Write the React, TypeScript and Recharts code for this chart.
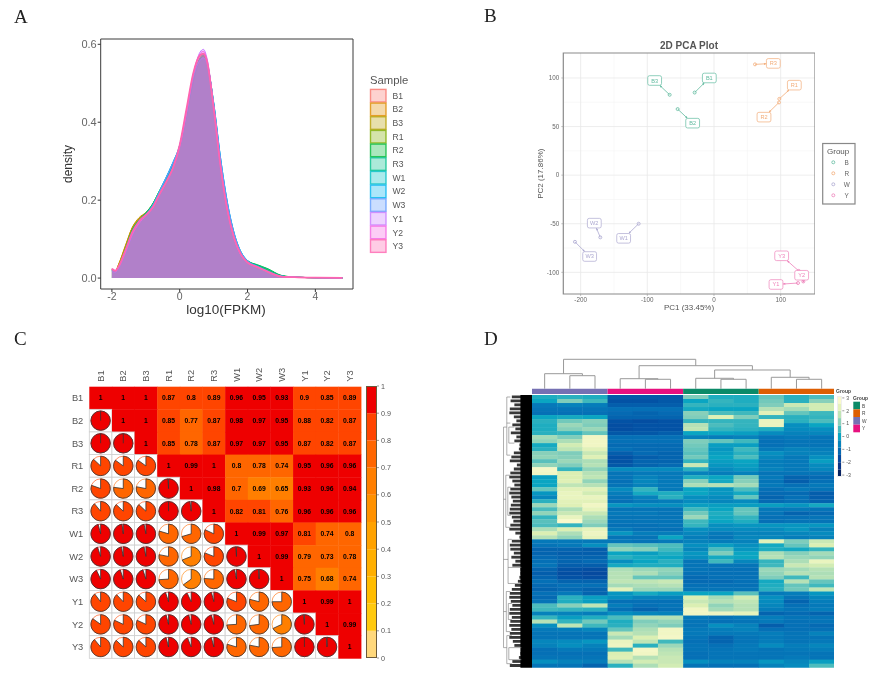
import {
  AreaChart, Area, BarChart, Bar, ScatterChart, Scatter, XAxis, YAxis,
  CartesianGrid, ReferenceArea, ReferenceLine,
} from 'recharts'

const SANS = '"Liberation Sans", Arial, sans-serif'

// ---- panel A: density ----
const samples = ['B1', 'B2', 'B3', 'R1', 'R2', 'R3', 'W1', 'W2', 'W3', 'Y1', 'Y2', 'Y3']
const sampleColors = [
  '#F8766D', '#DE8C00', '#B79F00', '#7CAE00', '#00BA38', '#00C08B',
  '#00BFC4', '#00B4F0', '#619CFF', '#C77CFF', '#F564E3', '#FF64B0',
]
const fpkm = [-2, -1.9, -1.8, -1.6, -1.4, -1.2, -1, -0.8, -0.6, -0.4, -0.2, 0, 0.2, 0.4, 0.6, 0.7, 0.8, 1, 1.2, 1.4, 1.6, 1.8, 2, 2.3, 2.6, 3, 3.5, 4, 4.8]
const densityB1 = [0.022, 0.018, 0.034, 0.08, 0.128, 0.152, 0.166, 0.184, 0.216, 0.25, 0.288, 0.336, 0.418, 0.505, 0.562, 0.572, 0.552, 0.44, 0.298, 0.186, 0.11, 0.064, 0.042, 0.03, 0.019, 0.005, 0.002, 0.001, 0.0005]
const densityB2 = [0.021, 0.017, 0.036, 0.084, 0.13, 0.155, 0.168, 0.186, 0.218, 0.251, 0.287, 0.335, 0.416, 0.503, 0.56, 0.57, 0.552, 0.442, 0.3, 0.188, 0.112, 0.065, 0.043, 0.03, 0.02, 0.005, 0.002, 0.001, 0.0005]
const densityB3 = [0.023, 0.018, 0.035, 0.082, 0.129, 0.153, 0.167, 0.185, 0.217, 0.25, 0.288, 0.336, 0.417, 0.504, 0.561, 0.571, 0.553, 0.441, 0.299, 0.187, 0.111, 0.064, 0.042, 0.03, 0.019, 0.005, 0.002, 0.001, 0.0005]
const densityR1 = [0.02, 0.016, 0.03, 0.076, 0.124, 0.15, 0.168, 0.19, 0.222, 0.254, 0.29, 0.338, 0.42, 0.51, 0.566, 0.574, 0.556, 0.445, 0.302, 0.19, 0.112, 0.066, 0.044, 0.032, 0.022, 0.006, 0.002, 0.001, 0.0005]
const densityR2 = [0.02, 0.016, 0.03, 0.074, 0.122, 0.148, 0.166, 0.19, 0.224, 0.256, 0.29, 0.336, 0.418, 0.508, 0.562, 0.57, 0.555, 0.448, 0.304, 0.192, 0.114, 0.066, 0.045, 0.034, 0.024, 0.007, 0.002, 0.001, 0.0005]
const densityR3 = [0.021, 0.016, 0.03, 0.075, 0.123, 0.149, 0.167, 0.189, 0.222, 0.254, 0.29, 0.337, 0.419, 0.508, 0.564, 0.572, 0.555, 0.446, 0.303, 0.19, 0.113, 0.066, 0.044, 0.033, 0.023, 0.006, 0.002, 0.001, 0.0005]
const densityW1 = [0.018, 0.014, 0.026, 0.066, 0.112, 0.144, 0.164, 0.186, 0.222, 0.258, 0.296, 0.34, 0.422, 0.516, 0.56, 0.566, 0.552, 0.45, 0.31, 0.196, 0.116, 0.068, 0.044, 0.03, 0.018, 0.005, 0.002, 0.001, 0.0005]
const densityW2 = [0.018, 0.014, 0.026, 0.064, 0.11, 0.142, 0.162, 0.186, 0.222, 0.259, 0.297, 0.342, 0.425, 0.518, 0.558, 0.564, 0.552, 0.452, 0.312, 0.198, 0.118, 0.069, 0.045, 0.03, 0.018, 0.005, 0.002, 0.001, 0.0005]
const densityW3 = [0.019, 0.014, 0.027, 0.065, 0.111, 0.143, 0.163, 0.186, 0.221, 0.258, 0.296, 0.341, 0.424, 0.517, 0.559, 0.565, 0.552, 0.451, 0.311, 0.197, 0.117, 0.068, 0.044, 0.03, 0.018, 0.005, 0.002, 0.001, 0.0005]
const densityY1 = [0.023, 0.018, 0.028, 0.068, 0.112, 0.14, 0.16, 0.18, 0.214, 0.246, 0.282, 0.336, 0.424, 0.522, 0.58, 0.587, 0.566, 0.442, 0.292, 0.178, 0.104, 0.06, 0.04, 0.028, 0.016, 0.004, 0.002, 0.001, 0.0005]
const densityY2 = [0.024, 0.019, 0.03, 0.07, 0.116, 0.144, 0.162, 0.18, 0.214, 0.246, 0.284, 0.34, 0.43, 0.524, 0.576, 0.582, 0.562, 0.44, 0.29, 0.178, 0.104, 0.06, 0.04, 0.028, 0.016, 0.004, 0.002, 0.001, 0.0005]
const densityY3 = [0.024, 0.019, 0.03, 0.072, 0.118, 0.146, 0.162, 0.181, 0.215, 0.247, 0.283, 0.342, 0.434, 0.526, 0.572, 0.576, 0.558, 0.438, 0.29, 0.178, 0.105, 0.062, 0.04, 0.028, 0.016, 0.004, 0.002, 0.001, 0.0005]
const densitySeries = [densityB1, densityB2, densityB3, densityR1, densityR2, densityR3, densityW1, densityW2, densityW3, densityY1, densityY2, densityY3]

const densityRows = fpkm.map((x, i) => {
  const row: Record<string, number> = { x }
  samples.forEach((s, k) => { row[s] = densitySeries[k][i] })
  return row
})

// ---- panel B: PCA ----
const pcaGroups = ['B', 'R', 'W', 'Y']
const pcaColors = ['#62BBA0', '#F2AC78', '#ACA8D0', '#EE82BA']
const pcaSamples = ['B1', 'B2', 'B3', 'R1', 'R2', 'R3', 'W1', 'W2', 'W3', 'Y1', 'Y2', 'Y3']
const pc1 = [-29, -54.5, -66.5, 98, 97.5, 61.5, -113, -170.5, -208.5, 126, 134, 127]
const pc2 = [85, 68, 82.7, 78.5, 74.8, 114, -50, -64, -68.6, -111, -109.4, -98.5]
const labelPc1 = [-7, -32, -89, 120.5, 75, 89, -135.5, -179.5, -186.5, 93, 131.5, 101.5]
const labelPc2 = [100, 53.5, 97.4, 92.6, 59.7, 115, -65, -49.4, -83.7, -112.5, -103, -83]

const pcaPoints = pcaSamples.map((name, i) => ({
  name, x: pc1[i], y: pc2[i], lx: labelPc1[i], ly: labelPc2[i], group: Math.floor(i / 3),
}))

// ---- panel C: correlation, upper triangle rows start at the diagonal ----
const corrUpper = [
  [1, 1, 1, 0.87, 0.804, 0.89, 0.96, 0.95, 0.93, 0.896, 0.85, 0.89],
  [1, 1, 0.85, 0.77, 0.87, 0.98, 0.97, 0.95, 0.88, 0.82, 0.87],
  [1, 0.85, 0.78, 0.87, 0.97, 0.97, 0.95, 0.87, 0.82, 0.87],
  [1, 0.99, 1, 0.796, 0.78, 0.74, 0.95, 0.96, 0.96],
  [1, 0.98, 0.704, 0.69, 0.65, 0.93, 0.96, 0.94],
  [1, 0.82, 0.81, 0.76, 0.96, 0.96, 0.96],
  [1, 0.99, 0.97, 0.81, 0.74, 0.796],
  [1, 0.99, 0.79, 0.73, 0.78],
  [1, 0.75, 0.68, 0.74],
  [1, 0.99, 1],
  [1, 0.99],
  [1],
]
const corrBins = ['#FFD87C', '#FFC90E', '#FFBC00', '#FFAF00', '#FFA200', '#FF9100', '#FF7F00', '#FF6600', '#FF4500', '#EE0000']
const corrTicks = [0, 0.1, 0.2, 0.3, 0.4, 0.5, 0.6, 0.7, 0.8, 0.9, 1]
const corrColor = (v: number) => corrBins[Math.max(0, Math.ceil(v * 10) - 1)]

const corrCells = samples.flatMap((_, r) => samples.map((__, c) => ({
  x: c + 0.5,
  y: r + 0.5,
  v: r <= c ? corrUpper[r][c - r] : corrUpper[c][r - c],
  upper: r <= c,
})))
const corrPos = samples.map((_, i) => i + 0.5)
const CORR_CELL = 22.64

// ---- panel D: heatmap, one row per band, columns W W W Y Y Y B B B R R R ----
const heatGroups = ['W', 'Y', 'B', 'R']
const heatGroupColors = ['#7570B3', '#E7107F', '#0B8A68', '#DD5E02']
const heatRows = [
  [0.2, 0.3, 0.2, -1.4, -1.4, -1.4, 1.0, 0.2, 0.2, 0.8, 0.3, 0.6],
  [0.0, 1.0, 0.5, -1.5, -1.5, -1.4, 0.0, 0.4, 0.2, 0.9, 0.3, 1.1],
  [-0.8, -0.6, -0.7, -1.3, -1.3, -1.3, 0.4, 0.3, 0.3, 1.0, 1.8, 1.9],
  [-0.9, -0.9, -0.9, -1.0, -1.0, -1.0, 0.1, 0.0, 0.0, 1.6, 1.4, 1.9],
  [-1.0, -1.0, -1.0, -1.1, -1.2, -1.1, 1.1, 0.6, 0.5, 2.2, 0.8, 0.5],
  [0.0, 0.1, 0.0, -1.2, -1.2, -1.2, 1.0, 2.1, 1.0, 0.4, 0.3, 0.4],
  [0.3, 0.9, 1.1, -1.5, -1.6, -1.5, 0.4, 0.4, 0.4, 2.4, 0.3, 0.6],
  [0.2, 1.3, 1.0, -1.6, -1.5, -1.5, 1.6, 0.6, 0.4, 2.4, -0.3, 0.0],
  [0.2, 1.1, 1.3, -1.6, -1.5, -1.5, 1.7, 0.4, 0.3, 0.2, -0.4, -0.3],
  [0.3, 0.4, 0.8, -1.4, -1.4, -1.3, 0.0, 0.0, -0.1, -0.4, -0.6, -0.5],
  [1.4, 1.0, 2.6, -1.0, -1.0, -1.0, -0.6, -0.7, -0.6, -0.9, -0.8, -0.9],
  [1.2, 1.5, 2.6, -1.0, -1.0, -1.0, 1.0, 0.8, 0.5, -1.0, -0.9, -0.9],
  [0.1, 1.9, 2.6, -1.1, -1.1, -1.1, 0.9, -0.1, -0.1, -1.0, -0.9, -0.9],
  [0.3, 1.7, 2.2, -1.0, -1.1, -1.1, 0.8, -0.2, 0.5, -0.8, -0.6, -0.7],
  [1.1, 1.0, 1.8, -1.3, -1.1, -1.2, 0.7, -0.1, 0.3, -0.3, -0.6, -0.6],
  [1.2, 1.1, 2.1, -1.5, -1.3, -1.2, 0.9, 0.0, 0.6, -0.5, -0.8, -0.3],
  [0.7, 1.3, 1.5, -1.5, -1.2, -1.2, 0.4, -0.1, 0.0, -0.7, -0.8, -0.1],
  [1.2, 1.0, 1.6, -1.4, -1.2, -1.1, 1.8, -0.2, -0.1, -0.7, -0.8, -0.4],
  [2.7, 0.4, 1.2, -0.4, -0.4, -0.4, 0.3, -0.4, -0.2, -0.6, -0.8, -0.5],
  [2.6, 2.0, 1.6, -0.9, -0.8, -0.8, -0.6, -0.7, -0.6, -0.9, -0.9, -0.9],
  [-0.1, 2.0, 1.7, -0.9, -0.6, -0.8, 0.2, 0.0, 0.9, -0.8, -1.2, -1.1],
  [0.0, 2.1, 1.2, -1.0, -0.5, -0.8, 1.1, 0.1, 1.1, -0.9, -1.3, -1.0],
  [0.0, 1.7, 1.6, -0.9, -0.6, -0.8, 1.5, 1.6, 1.4, -0.8, -1.0, -0.8],
  [0.8, 2.2, 2.2, -0.4, 0.4, -0.8, 0.0, -0.2, 0.6, -1.0, -0.8, -0.9],
  [-0.2, 2.4, 1.9, -0.7, 0.1, 0.2, 0.0, -0.2, 0.1, -1.1, -1.1, -1.3],
  [-0.5, 2.4, 2.4, -0.9, -0.6, 0.3, -0.3, -0.4, 0.8, -1.2, -1.0, -1.3],
  [0.3, 2.2, 2.2, -1.0, -0.8, -0.7, -0.4, -0.5, -0.4, -1.1, -1.0, -1.2],
  [1.3, 2.1, 2.6, -0.2, -0.3, -0.3, -0.1, -0.1, -0.1, -0.1, -0.2, 0.1],
  [0.6, 1.5, 2.3, -0.9, -0.9, -0.9, 0.5, 0.0, 0.8, -0.8, -0.8, -0.9],
  [1.2, 1.8, 1.8, -0.8, -0.8, -0.9, 0.9, 0.2, 0.8, -0.9, -1.2, -1.1],
  [0.4, 2.4, 1.5, -0.9, -0.9, -0.9, 1.3, 0.1, 0.4, -1.0, -1.0, -0.9],
  [0.7, 2.8, 1.3, -0.9, -0.9, -0.9, 0.5, 0.0, 0.2, -1.0, -0.9, -0.9],
  [0.6, 0.4, 1.0, -1.0, -1.0, -0.9, 0.4, -0.3, -0.2, -0.2, -0.2, -0.2],
  [1.5, 2.0, 2.3, -0.8, -1.0, -1.0, -0.3, -0.4, -0.4, -0.4, -0.2, -0.6],
  [2.0, 1.5, 2.5, -0.2, -0.7, -0.7, -0.5, -0.8, -0.6, -0.6, -0.5, -0.4],
  [1.6, 1.2, 2.3, -0.9, -0.9, 0.0, -0.7, -0.9, -0.5, -0.5, -0.7, -0.6],
  [-0.8, -0.8, -0.8, -0.8, -0.9, -0.8, -0.6, -0.7, -0.6, 2.2, 1.0, 1.8],
  [-0.9, -0.8, -0.3, 0.8, 0.7, 0.6, -0.3, -0.1, -0.3, 0.1, 0.8, 2.0],
  [-1.2, -1.2, -1.3, 1.2, 1.1, 0.5, -0.5, 0.6, -0.2, 0.2, 0.1, 0.4],
  [-1.2, -1.3, -1.3, 0.0, -0.1, 0.2, -0.2, 1.0, 0.0, 1.5, 1.1, 1.4],
  [-1.1, -1.2, -1.2, 0.3, 0.1, 0.0, -0.3, 0.1, 0.0, 1.6, 1.3, 1.2],
  [-1.0, -1.2, -1.1, -0.3, 0.0, 0.3, -0.9, 0.5, -0.5, 0.4, 1.5, 2.4],
  [-0.9, -1.3, -1.3, 0.1, 0.2, 0.2, -0.9, -0.9, -0.9, 0.5, 1.8, 1.9],
  [-1.2, -1.5, -1.6, 1.5, 1.3, 1.2, -0.9, -1.0, -1.0, 1.3, 1.4, 1.6],
  [-1.3, -1.6, -1.7, 1.6, 1.5, 1.1, -1.0, -1.0, -1.0, 1.2, 1.6, 1.5],
  [-1.2, -1.5, -1.6, 1.6, 0.8, 0.8, -1.1, -1.0, -1.0, 1.0, 0.5, 1.6],
  [-1.0, -1.2, -1.2, 1.7, 1.7, 1.8, -1.1, -1.1, -1.0, 0.1, 1.6, 0.8],
  [-1.1, -1.0, -1.0, 1.4, 1.5, 1.6, -1.0, -1.0, -1.0, 0.2, 0.8, 0.5],
  [-1.2, -1.1, -1.2, 2.2, 1.3, 1.3, -0.9, -0.9, -0.9, 0.3, 0.9, 1.7],
  [-1.0, -0.8, -1.2, -0.2, 0.1, -0.1, 0.0, 0.0, 0.7, -0.8, -0.7, -0.2],
  [-1.1, 0.3, -0.1, -0.3, -0.6, -0.6, 2.0, 1.4, 1.9, -0.3, -0.9, -0.5],
  [-0.9, 0.2, -0.1, -1.0, -1.0, -1.0, 1.8, 1.6, 1.7, -0.4, -1.2, -0.7],
  [0.6, 1.1, 1.7, -0.7, -1.0, -0.9, 2.0, 1.2, 1.6, -0.5, -1.0, -0.8],
  [0.5, 0.4, 0.3, -1.0, -1.2, -1.0, 2.6, 1.4, 1.6, -0.7, -0.9, -0.7],
  [-0.6, -0.6, -0.7, -0.3, -0.5, -0.6, 2.6, 2.5, 2.3, -1.2, -1.1, -1.2],
  [0.4, -0.1, 0.2, 0.6, 1.6, 1.6, -0.8, -0.9, -0.8, -0.7, -0.9, -0.9],
  [1.6, 0.4, 0.9, 0.2, 1.0, 1.2, -0.9, -1.0, -0.9, -0.8, -1.0, -0.9],
  [-0.3, 1.7, 0.5, 0.3, 1.2, 1.0, -0.9, -0.3, -0.6, -1.3, -1.0, -1.1],
  [-0.8, -0.7, -0.5, 0.8, 1.5, 2.6, -0.8, -0.7, -0.6, -1.0, -1.0, -1.0],
  [-0.9, -0.9, -0.9, 1.8, 1.6, 2.6, -0.8, -0.8, -0.8, -0.7, -0.9, -0.6],
  [-0.9, -0.9, -0.9, 1.4, 2.0, 2.7, -0.9, -1.2, -0.9, -0.8, -0.9, -0.9],
  [-0.5, -0.4, -0.2, 2.4, 1.7, 0.5, -1.0, -1.2, -0.9, -0.7, -0.9, -0.8],
  [-0.6, -0.3, -0.6, 2.5, 0.3, 1.3, -0.9, -1.0, -0.8, -0.4, -0.7, -0.5],
  [-1.0, -0.8, -0.8, 0.5, 2.7, 1.6, -0.9, -0.9, -0.8, -0.9, -0.8, -0.7],
  [-1.0, -1.0, -1.0, 2.0, 2.6, 1.7, -1.0, -0.9, -0.9, -0.9, -0.9, -0.9],
  [-0.9, -0.9, -0.9, 2.1, 1.6, 1.8, -1.0, -0.9, -0.9, -0.9, -0.8, -0.9],
  [-0.3, -0.6, -0.7, 1.6, 1.9, 1.8, -0.3, -0.6, -0.6, -0.2, -0.5, -0.1],
  [-0.9, -0.9, -1.2, 0.3, 1.5, 1.9, -0.9, -1.0, -1.0, -0.6, -0.4, 0.6],
]
// how far each leaf of the row tree reaches left of the heatmap, in column widths
const leafDepth = [
  -0.8, -0.85, -0.7, -0.88, -0.9, -0.72, -0.62, -0.78, -0.66, -0.84, -0.62, -0.7, -0.5, -0.52, -0.72, -0.82, -0.88, -0.6,
  -0.72, -0.86, -0.9, -0.78, -0.7, -0.86, -0.9, -0.82, -0.76, -0.84, -0.88, -0.9, -0.8, -0.74, -0.86, -0.9, -0.66, -0.5,
  -0.8, -0.88, -0.86, -0.72, -0.82, -0.66, -0.78, -0.46, -0.46, -0.5, -0.56, -0.68, -0.8, -0.88, -0.9, -0.84, -0.78, -0.88,
  -0.9, -0.8, -0.86, -0.9, -0.82, -0.88, -0.9, -0.76, -0.7, -0.44, -0.46, -0.52, -0.78, -0.88,
]
// [x1, row1, x2, row2] of the outer row tree
const rowTree = [
  [-1.13, 8, -1.13, 63], [-1.13, 8, -1.0, 8], [-1.13, 63, -1.0, 63],
  [-1.0, 0.5, -1.0, 15], [-1.0, 0.5, -0.86, 0.5], [-1.0, 7, -0.86, 7], [-1.0, 15, -0.86, 15],
  [-0.92, 8, -0.92, 12], [-0.92, 12, -0.7, 12], [-0.92, 8, -0.7, 8],
  [-1.04, 20, -1.04, 33], [-1.13, 26, -1.04, 26], [-1.04, 20, -0.88, 20], [-1.04, 33, -0.88, 33],
  [-0.96, 23, -0.96, 30], [-0.96, 23, -0.84, 23], [-0.96, 30, -0.84, 30],
  [-0.95, 36, -0.95, 47], [-1.13, 41, -0.95, 41], [-0.95, 36, -0.8, 36], [-0.95, 47, -0.4, 47],
  [-0.95, 43, -0.42, 43],
  [-1.02, 49, -1.02, 59], [-1.13, 54, -1.02, 54], [-1.02, 49, -0.86, 49], [-1.02, 59, -0.86, 59],
  [-0.94, 52, -0.94, 56], [-0.94, 52, -0.8, 52], [-0.94, 56, -0.8, 56],
  [-1.0, 60, -1.0, 67], [-1.0, 60, -0.8, 60], [-1.0, 67, -0.8, 67], [-0.92, 63, -0.42, 63], [-0.92, 66, -0.42, 66], [-0.92, 63, -0.92, 66],
]
// [left x, right x, joint height, left leg floor, right leg floor], x in columns
const colTree = [
  [1.5, 2.5, 13, 0, 0], [0.5, 2.0, 15, 0, 13],
  [4.5, 5.5, 9.4, 0, 0], [3.5, 5.0, 10, 0, 9.4],
  [7.5, 8.5, 9.4, 0, 0], [6.5, 8.0, 10.4, 0, 9.4],
  [10.5, 11.5, 9.4, 0, 0], [9.5, 11.0, 11.4, 0, 9.4],
  [7.25, 10.25, 18.7, 10.4, 11.4],
  [4.25, 8.75, 23, 10, 18.7],
  [1.25, 6.5, 29.4, 15, 23],
]

const heatStops: [number, number[]][] = [
  [-3, [8, 29, 88]], [-2, [10, 61, 150]], [-1.5, [3, 82, 165]], [-1, [5, 112, 182]], [-0.3, [6, 143, 191]],
  [0, [10, 165, 194]], [0.5, [63, 184, 189]], [1, [127, 205, 187]], [2, [219, 239, 179]], [3, [255, 251, 208]],
]
const heatColor = (v: number) => {
  for (let i = 1; i < heatStops.length; i++) {
    const [b, cb] = heatStops[i]
    const [a, ca] = heatStops[i - 1]
    if (v <= b) {
      const t = Math.max(0, (v - a) / (b - a))
      return `rgb(${ca.map((c, k) => Math.round(c + (cb[k] - c) * t)).join(',')})`
    }
  }
  return 'rgb(255,251,208)'
}
const heatCells = heatRows.flatMap((row, r) => row.map((v, c) => ({ x: c + 0.5, y: r + 0.5, v })))
const heatBinMids = [-2.85, -2.28, -1.71, -1.14, -0.57, 0, 0.57, 1.14, 1.71, 2.28, 2.85]
const heatBarTicks = [-3, -2, -1, 0, 1, 2, 3]
const HEAT_COL = 25.2
const HEAT_ROW = 4.01

const abs = (left: number, top: number) => ({ position: 'absolute' as const, left, top })

// stacked single-column bar used as the colour key of panels C and D
function ColorBar({ left, top, height, barWidth, labelWidth, min, colors, binSize, ticks, fontSize, frame }: {
  left: number; top: number; height: number; barWidth: number; labelWidth: number; min: number
  colors: string[]; binSize: number; ticks: number[]; fontSize: number; frame: string
}) {
  const row: Record<string, number | string> = { name: 'scale' }
  colors.forEach((_, i) => { row[`bin${i}`] = binSize })
  const total = binSize * colors.length
  return (
    <div style={abs(left, top - 6)}>
      <BarChart width={barWidth + labelWidth} height={height + 12} data={[row]} barCategoryGap={0}
        margin={{ top: 6, bottom: 6, left: 0, right: 0 }}>
        <XAxis dataKey="name" hide />
        <YAxis orientation="right" type="number" width={labelWidth} domain={[0, total]}
          ticks={ticks.map(t => t - min)} tickFormatter={(t: number) => String(Math.round((t + min) * 10) / 10)}
          interval={0} axisLine={false} tickSize={2} tickLine={{ stroke: '#555', strokeWidth: 0.6 }}
          tick={{ fontSize, fill: '#555', fontFamily: SANS }} />
        {colors.map((c, i) => (
          <Bar key={i} dataKey={`bin${i}`} stackId="scale" fill={c} isAnimationActive={false} />
        ))}
      </BarChart>
      <div style={{ ...abs(0, 6), width: barWidth, height, boxSizing: 'border-box', border: `1px solid ${frame}` }} />
    </div>
  )
}

function DensityPanel() {
  return (
    <div style={abs(0, 0)}>
      <AreaChart width={440} height={330} data={densityRows} margin={{ top: 39, right: 87, left: 0, bottom: 0 }}>
        <XAxis type="number" dataKey="x" domain={[-2.33, 5.11]} allowDataOverflow ticks={[-2, 0, 2, 4]} height={41}
          axisLine={false} tickSize={3} tickMargin={1} tickLine={{ stroke: '#333' }} tick={{ fontSize: 10.5, fill: '#666', fontFamily: SANS }} />
        <YAxis type="number" domain={[-0.028, 0.6136]} allowDataOverflow ticks={[0, 0.2, 0.4, 0.6]} width={100.7}
          tickFormatter={(v: number) => v.toFixed(1)} axisLine={false} tickSize={3} tickMargin={1} tickLine={{ stroke: '#333' }}
          tick={{ fontSize: 11, fill: '#666', fontFamily: SANS }} />
        {samples.map((s, i) => (
          <Area key={s} dataKey={s} type="monotone" fill={sampleColors[i]} fillOpacity={0.3}
            stroke={sampleColors[i]} strokeWidth={i === 11 ? 1.8 : 1} isAnimationActive={false} dot={false} />
        ))}
        <ReferenceArea x1={-2.33} x2={5.11} y1={-0.028} y2={0.6136} fill="none" stroke="#3a3a3a" strokeWidth={1} />
      </AreaChart>
    </div>
  )
}

function LabelBox(props: any) {
  const { cx, cy, payload } = props
  const color = pcaColors[payload.group]
  return (
    <g>
      <rect x={cx - 6.9} y={cy - 4.8} width={13.8} height={9.6} rx={1.8} fill="#fff" stroke={color} strokeWidth={0.7} />
      <text x={cx} y={cy + 2} textAnchor="middle" fontSize={5.6} fontFamily={SANS} fill={color}>{payload.name}</text>
    </g>
  )
}

function PointMark(props: any) {
  const { cx, cy, payload } = props
  return <circle cx={cx} cy={cy} r={1.5} fill="none" stroke={pcaColors[payload.group]} strokeWidth={0.8} />
}

// connector from a sample point to the edge of its label box
function Connector(props: any) {
  const { x1, y1, x2, y2, stroke } = props
  const dx = x2 - x1
  const dy = y2 - y1
  const t = Math.min(6.9 / Math.abs(dx || 1), 4.8 / Math.abs(dy || 1))
  const tx = x2 - dx * t
  const ty = y2 - dy * t
  const len = Math.hypot(dx, dy) || 1
  const ux = dx / len
  const uy = dy / len
  return (
    <g>
      <line x1={x1} y1={y1} x2={tx} y2={ty} stroke={stroke} strokeWidth={0.8} />
      <polygon fill={stroke} points={`${tx},${ty} ${tx - ux * 2.4 - uy},${ty - uy * 2.4 + ux} ${tx - ux * 2.4 + uy},${ty - uy * 2.4 - ux}`} />
    </g>
  )
}

function PcaPanel() {
  return (
    <div style={abs(470, 30)}>
      <ScatterChart width={345} height={284} margin={{ top: 23, right: 0, left: 0, bottom: 0 }}>
        <CartesianGrid verticalValues={[-150, -50, 50]} horizontalValues={[75, 25, -25, -75]} stroke="#f3f3f3" strokeWidth={0.6} />
        <CartesianGrid verticalValues={[-200, -100, 0, 100]} horizontalValues={[100, 50, 0, -50, -100]} stroke="#e8e8e8" strokeWidth={0.8} />
        <XAxis type="number" dataKey="x" domain={[-226, 151.5]} allowDataOverflow ticks={[-200, -100, 0, 100]} height={20}
          axisLine={false} tickSize={2} tickLine={{ stroke: '#999', strokeWidth: 0.6 }} tick={{ fontSize: 6.3, fill: '#666', fontFamily: SANS }} />
        <YAxis type="number" dataKey="y" domain={[-122.3, 125.7]} allowDataOverflow ticks={[-100, -50, 0, 50, 100]} width={93.3}
          axisLine={false} tickSize={2} tickLine={{ stroke: '#999', strokeWidth: 0.6 }} tick={{ fontSize: 6.3, fill: '#666', fontFamily: SANS }} />
        {pcaPoints.map(p => (
          <ReferenceLine key={p.name} segment={[{ x: p.x, y: p.y }, { x: p.lx, y: p.ly }]}
            stroke={pcaColors[p.group]} shape={Connector} />
        ))}
        <Scatter data={pcaPoints} shape={PointMark} isAnimationActive={false} />
        <Scatter data={pcaPoints.map(p => ({ ...p, x: p.lx, y: p.ly }))} shape={LabelBox} isAnimationActive={false} />
        <ReferenceArea x1={-226} x2={151.5} y1={-122.3} y2={125.7} fill="none" stroke="#8a8a8a" strokeWidth={1.2} />
      </ScatterChart>
    </div>
  )
}

function CorrCell(props: any) {
  const { cx, cy, payload } = props
  const half = CORR_CELL / 2
  const color = corrColor(payload.v)
  if (payload.upper) {
    return (
      <g>
        <rect x={cx - half} y={cy - half} width={CORR_CELL + 0.4} height={CORR_CELL + 0.4} fill={color} />
        <text x={cx} y={cy + 2.4} textAnchor="middle" fontSize={6.8} fontWeight="bold" fontFamily={SANS} fill="#000">
          {String(Number(payload.v.toFixed(2)))}
        </text>
      </g>
    )
  }
  const r = 9.7
  const angle = payload.v * 2 * Math.PI
  const ex = cx + r * Math.sin(angle)
  const ey = cy - r * Math.cos(angle)
  const large = payload.v > 0.5 ? 1 : 0
  return (
    <g>
      <rect x={cx - half} y={cy - half} width={CORR_CELL} height={CORR_CELL} fill="#fff" stroke="#cfcfcf" strokeWidth={0.8} />
      <circle cx={cx} cy={cy} r={r} fill="#fff" stroke={color} strokeWidth={0.6} />
      {payload.v >= 0.999 ? (
        <g>
          <circle cx={cx} cy={cy} r={r} fill={color} stroke="#333" strokeWidth={0.8} />
          <line x1={cx} y1={cy} x2={cx} y2={cy - r} stroke="#333" strokeWidth={0.8} />
        </g>
      ) : (
        <path d={`M${cx},${cy} L${cx},${cy - r} A${r},${r} 0 ${large} 1 ${ex},${ey} Z`} fill={color} stroke="#333" strokeWidth={0.8} />
      )}
    </g>
  )
}

function CorrColumnTick(props: any) {
  const { x, y, payload } = props
  return (
    <text x={x} y={y} dy={3.2} transform={`rotate(-90 ${x} ${y})`} fontSize={9.3} fontFamily={SANS} fill="#555">
      {samples[Math.floor(payload.value)]}
    </text>
  )
}

function CorrPanel() {
  return (
    <div style={abs(0, 360)}>
      <ScatterChart width={362} height={300} margin={{ top: 0, right: 1, left: 0, bottom: 1.7 }}>
        <XAxis xAxisId={0} orientation="top" type="number" dataKey="x" domain={[0, 12]} ticks={corrPos} interval={0} height={26.7}
          axisLine={false} tickLine={false} tickSize={3} tick={CorrColumnTick} />
        <YAxis type="number" dataKey="y" reversed domain={[0, 12]} ticks={corrPos} interval={0} width={89.3}
          axisLine={false} tickLine={false} tickSize={4} tickFormatter={(v: number) => samples[Math.floor(v)]}
          tick={{ fontSize: 9.3, fill: '#555', fontFamily: SANS }} />
        <Scatter data={corrCells} shape={CorrCell} isAnimationActive={false} />
      </ScatterChart>
    </div>
  )
}

function HeatCell(props: any) {
  const { cx, cy, payload } = props
  return <rect x={cx - HEAT_COL / 2} y={cy - HEAT_ROW / 2} width={HEAT_COL + 0.4} height={HEAT_ROW + 0.3} fill={heatColor(payload.v)} />
}

function HeatPanel() {
  return (
    <div style={abs(497, 388)}>
      <ScatterChart width={337.3} height={279.7} margin={{ top: 0, right: 0, left: 0, bottom: 0 }}>
        <XAxis type="number" dataKey="x" domain={[-1.389, 12]} allowDataOverflow hide />
        <YAxis type="number" dataKey="y" reversed domain={[-1.746, 68]} allowDataOverflow hide />
        <Scatter data={heatCells} shape={HeatCell} isAnimationActive={false} />
        {heatGroups.map((g, i) => (
          <ReferenceArea key={g} x1={i * 3} x2={i * 3 + 3} y1={-1.57} y2={-0.25} fill={heatGroupColors[i]} fillOpacity={1} />
        ))}
        {leafDepth.map((d, i) => (
          <ReferenceArea key={i} x1={d} x2={0} y1={i + 0.1} y2={i + 0.8} fill="#222" fillOpacity={0.9} />
        ))}
        <ReferenceArea x1={-0.46} x2={0} y1={0} y2={68} fill="#000" fillOpacity={1} />
        {rowTree.map((s, i) => (
          <ReferenceLine key={i} segment={[{ x: s[0], y: s[1] }, { x: s[2], y: s[3] }]} stroke="#777" strokeWidth={0.6} />
        ))}
      </ScatterChart>
    </div>
  )
}

function ColTreePanel() {
  return (
    <div style={abs(532, 355)}>
      <ScatterChart width={302.3} height={33.7} margin={{ top: 0, right: 0, left: 0, bottom: 0 }}>
        <XAxis type="number" dataKey="x" domain={[0, 12]} hide />
        <YAxis type="number" dataKey="y" domain={[0, 33.7]} hide />
        {colTree.map((t, i) => (
          <Scatter key={i} fill="#999" line={{ stroke: '#999', strokeWidth: 1 }} shape={() => <g />} isAnimationActive={false}
            data={[{ x: t[0], y: t[3] }, { x: t[0], y: t[2] }, { x: t[1], y: t[2] }, { x: t[1], y: t[4] }]} />
        ))}
      </ScatterChart>
    </div>
  )
}

// panel letters, titles and the keys that sit beside the plots
function Annotations() {
  const txt = { fontFamily: SANS }
  return (
    <svg width={877} height={681} style={{ ...abs(0, 0), pointerEvents: 'none' }}>
      {[['A', 14, 23], ['B', 484, 22], ['C', 14, 345], ['D', 484, 345]].map(([l, x, y]) => (
        <text key={l as string} x={x} y={y} fontSize={19} fontFamily='"Liberation Serif", serif' fill="#222">{l}</text>
      ))}

      <text x={226} y={314} textAnchor="middle" fontSize={13.5} fill="#333" {...txt}>log10(FPKM)</text>
      <text transform="translate(72 164) rotate(-90)" textAnchor="middle" fontSize={12} fill="#333" {...txt}>density</text>
      <text x={370} y={84} fontSize={11.3} fill="#555" {...txt}>Sample</text>
      {samples.map((s, i) => (
        <g key={s}>
          <rect x={370.5} y={89.4 + i * 13.67} width={15.5} height={12.6} fill={sampleColors[i]} fillOpacity={0.33}
            stroke={sampleColors[i]} strokeOpacity={0.8} strokeWidth={1.4} />
          <text x={392.5} y={98.8 + i * 13.67} fontSize={8.6} fill="#555" {...txt}>{s}</text>
        </g>
      ))}

      <text x={689} y={48.5} textAnchor="middle" fontSize={10} fontWeight="bold" fill="#555" {...txt}>2D PCA Plot</text>
      <text x={689} y={309.5} textAnchor="middle" fontSize={8} fill="#555" {...txt}>PC1 (33.45%)</text>
      <text transform="translate(543 173.7) rotate(-90)" textAnchor="middle" fontSize={8} fill="#555" {...txt}>PC2 (17.86%)</text>
      <rect x={822.7} y={143.5} width={32.3} height={60.5} fill="#fff" stroke="#888" strokeWidth={1.2} />
      <text x={827} y={153.5} fontSize={8} fill="#555" {...txt}>Group</text>
      {pcaGroups.map((g, i) => (
        <g key={g}>
          <circle cx={833.3} cy={162.3 + i * 11} r={1.5} fill="none" stroke={pcaColors[i]} strokeWidth={0.8} />
          <text x={846.7} y={164.6 + i * 11} textAnchor="middle" fontSize={6.4} fill="#666" {...txt}>{g}</text>
        </g>
      ))}

      <text x={836} y={393} fontSize={5} fontWeight="bold" fill="#444" {...txt}>Group</text>
      <text x={853} y={400} fontSize={5} fontWeight="bold" fill="#444" {...txt}>Group</text>
      {['B', 'R', 'W', 'Y'].map((g, i) => (
        <g key={g}>
          <rect x={853.3} y={401.7 + i * 7.65} width={6.7} height={7.65} fill={heatGroupColors[[2, 3, 0, 1][i]]} />
          <text x={862} y={407.5 + i * 7.65} fontSize={4.8} fill="#444" {...txt}>{g}</text>
        </g>
      ))}
    </svg>
  )
}

export default function App() {
  return (
    <div style={{ ...abs(0, 0), width: 877, height: 681, background: '#fff', overflow: 'hidden', filter: 'blur(0.55px)' }}>
      <DensityPanel />
      <PcaPanel />
      <CorrPanel />
      <ColorBar left={365.7} top={386} height={272} barWidth={11} labelWidth={29} min={0} colors={corrBins} binSize={0.1}
        ticks={corrTicks} fontSize={7.2} frame="#6b5a3a" />
      <ColTreePanel />
      <HeatPanel />
      <ColorBar left={836.7} top={396} height={81} barWidth={5.3} labelWidth={14} min={-3.15} colors={heatBinMids.map(heatColor)} binSize={6.3 / 11}
        ticks={heatBarTicks} fontSize={5.2} frame="#eee" />
      <Annotations />
    </div>
  )
}
